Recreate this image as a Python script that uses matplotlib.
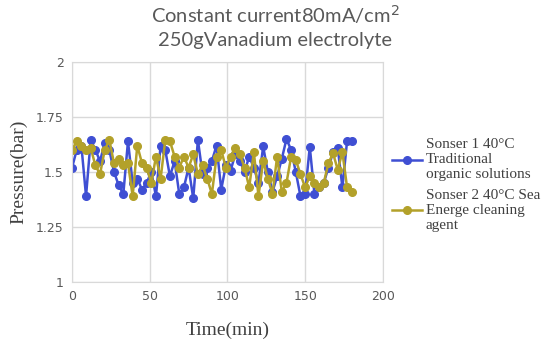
import matplotlib
matplotlib.use("Agg")
import matplotlib.pyplot as plt

# time axis (min), one reading every 3 minutes
time_min = list(range(0, 181, 3))

# Sonser 1 40°C Traditional organic solutions
sonser1 = [1.52, 1.60, 1.62, 1.39, 1.646, 1.60, 1.55, 1.63, 1.60, 1.50,
           1.44, 1.40, 1.64, 1.45, 1.47, 1.42, 1.45, 1.50, 1.39, 1.62,
           1.60, 1.48, 1.55, 1.40, 1.43, 1.52, 1.38, 1.646, 1.49, 1.52,
           1.55, 1.62, 1.42, 1.53, 1.505, 1.58, 1.55, 1.50, 1.57, 1.52,
           1.45, 1.616, 1.50, 1.41, 1.48, 1.56, 1.65, 1.60, 1.50, 1.39,
           1.40, 1.615, 1.40, 1.43, 1.45, 1.52, 1.59, 1.61, 1.43, 1.64,
           1.64]

# Sonser 2 40°C Sea Energe cleaning agent
sonser2 = [1.60, 1.64, 1.62, 1.60, 1.61, 1.53, 1.49, 1.60, 1.645, 1.54,
           1.56, 1.53, 1.54, 1.39, 1.62, 1.54, 1.52, 1.45, 1.57, 1.47,
           1.645, 1.64, 1.57, 1.52, 1.57, 1.52, 1.58, 1.49, 1.53, 1.47,
           1.40, 1.57, 1.60, 1.52, 1.57, 1.61, 1.58, 1.52, 1.43, 1.59,
           1.39, 1.55, 1.47, 1.40, 1.57, 1.41, 1.45, 1.57, 1.555, 1.49,
           1.43, 1.48, 1.45, 1.43, 1.45, 1.54, 1.585, 1.51, 1.59, 1.43,
           1.41]

x_ticks = [0, 50, 100, 150, 200]
y_ticks = [1, 1.25, 1.5, 1.75, 2]
y_tick_labels = ["1", "1.25", "1.5", "1.75", "2"]

label1 = "Sonser 1 40\u00b0C\nTraditional\norganic solutions"
label2 = "Sonser 2 40\u00b0C Sea\nEnerge cleaning\nagent"

fig = plt.figure(figsize=(5.5, 3.45), dpi=100)
ax = fig.add_axes([0.131, 0.183, 0.565, 0.637])

ax.plot(time_min, sonser1, color="#3F4FD3", lw=1.8, marker="o", ms=5.5, label=label1)
ax.plot(time_min, sonser2, color="#B3A12A", lw=1.8, marker="o", ms=5.5, label=label2)

ax.set_xlim(0, 200)
ax.set_ylim(1, 2)
ax.set_xticks(x_ticks)
ax.set_yticks(y_ticks)
ax.set_yticklabels(y_tick_labels)
ax.grid(True, color="#D9D9D9", lw=1)
ax.set_axisbelow(True)
for s in ax.spines.values():
    s.set_color("#D9D9D9")
ax.tick_params(length=0, labelsize=9, colors="#595959", pad=6)

ax.set_xlabel("Time(min)", family="Liberation Serif", fontsize=14, color="#404040", labelpad=13)
ax.set_ylabel("Pressure(bar)", family="Liberation Serif", fontsize=14, color="#404040", labelpad=6)

fig.text(0.50, 0.958, "Constant current80mA/cm$^2$", ha="center", va="center",
         family="Lato", fontsize=14.5, color="#595959")
fig.text(0.50, 0.882, "250gVanadium electrolyte", ha="center", va="center",
         family="Lato", fontsize=14.5, color="#595959")

leg = ax.legend(loc="center left", bbox_to_anchor=(0.99, 0.44), frameon=False,
                prop={"family": "Liberation Serif", "size": 11},
                handlelength=2.0, handletextpad=0.2, labelspacing=0.5, borderaxespad=0.4)
for t in leg.get_texts():
    t.set_color("#404040")

fig.savefig("out.png", dpi=100)
